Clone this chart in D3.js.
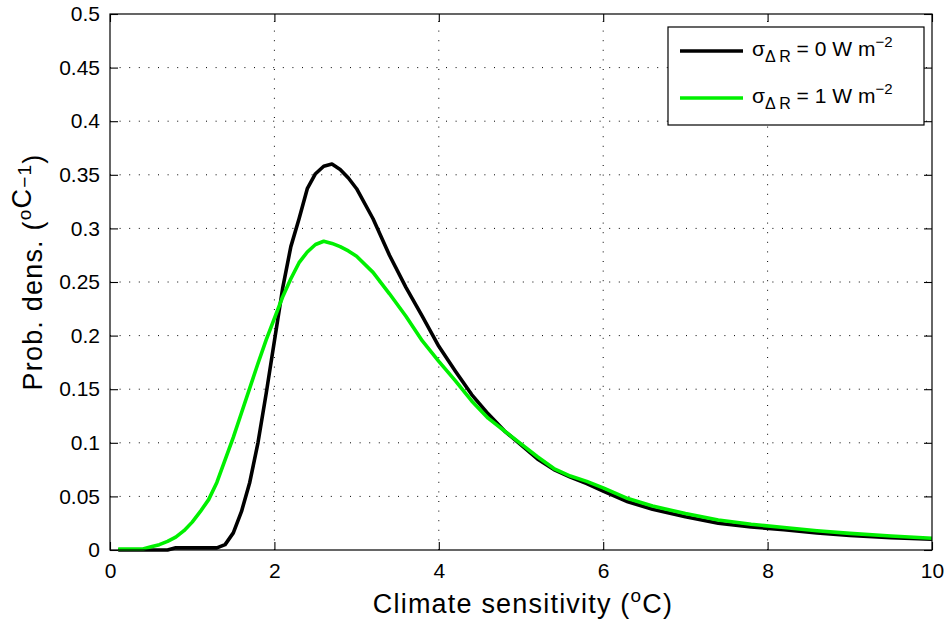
<!DOCTYPE html>
<html>
<head>
<meta charset="utf-8">
<script src="https://cdn.jsdelivr.net/npm/d3@7"></script>
<style>
  body { margin: 0; background: #fff; }
  text { font-family: "Liberation Sans", Arial, sans-serif; fill: #000; }
</style>
</head>
<body>
<script>
const width = 946;
const height = 625;

// climate sensitivity grid (deg C)
var xs = [0.1,0.2,0.3,0.4,0.5,0.6,0.7,0.8,0.9,1.0,1.1,1.2,1.3,1.4,1.5,1.6,1.7,1.8,1.9,2.0,
          2.1,2.2,2.3,2.4,2.5,2.6,2.7,2.8,2.9,3.0,3.2,3.4,3.6,3.8,4.0,4.2,4.4,4.6,4.8,5.0,
          5.2,5.4,5.6,5.8,6.0,6.3,6.6,7.0,7.4,7.8,8.2,8.6,9.0,9.5,10];

// sigma_dR = 0 W m^-2
var pdf0 = [0,0,0,0,0,0,0,0.002,0.002,0.002,0.002,0.002,0.002,0.005,0.016,0.036,0.063,0.100,0.146,0.195,
            0.244,0.283,0.309,0.337,0.351,0.358,0.360,0.355,0.347,0.337,0.309,0.275,0.245,0.218,0.190,0.167,0.145,0.127,0.111,0.098,
            0.085,0.075,0.068,0.062,0.055,0.045,0.038,0.031,0.025,0.0215,0.019,0.016,0.0135,0.0115,0.010];

// sigma_dR = 1 W m^-2
var pdf1 = [0.001,0.001,0.001,0.001,0.003,0.005,0.008,0.012,0.018,0.026,0.036,0.047,0.063,0.084,0.105,0.128,0.151,0.174,0.196,0.216,
            0.236,0.253,0.268,0.278,0.285,0.288,0.286,0.283,0.279,0.274,0.259,0.239,0.218,0.195,0.176,0.158,0.139,0.123,0.111,0.099,
            0.087,0.076,0.069,0.064,0.058,0.048,0.041,0.034,0.028,0.024,0.021,0.018,0.0155,0.013,0.011];

var xTicks = [0, 2, 4, 6, 8, 10];
var yTicks = [0, 0.05, 0.1, 0.15, 0.2, 0.25, 0.3, 0.35, 0.4, 0.45, 0.5];

var legendNames = ["0", "1"];
var legendColors = ["#000", "#00f000"];

// plot frame (don't call it "top", that clashes with window.top)
var mLeft = 110, mRight = 932, mTop = 14, mBottom = 550;

var svg = d3.select("body")
  .append("svg")
  .attr("width", width)
  .attr("height", height);

var x = d3.scaleLinear().domain([0, 10]).range([mLeft, mRight]);
var y = d3.scaleLinear().domain([0, 0.5]).range([mBottom, mTop]);

// dotted grid
var grid = svg.append("g")
  .attr("stroke", "#000")
  .attr("stroke-width", 1)
  .attr("stroke-dasharray", "1,8.6");

grid.selectAll("line.gx")
  .data(xTicks.slice(1, -1))
  .enter().append("line")
  .attr("x1", d => x(d)).attr("x2", d => x(d))
  .attr("y1", mBottom).attr("y2", mTop);

grid.selectAll("line.gy")
  .data(yTicks.slice(1, -1))
  .enter().append("line")
  .attr("x1", mLeft).attr("x2", mRight)
  .attr("y1", d => y(d)).attr("y2", d => y(d));

// axes with inward ticks
var tickLen = 8;
var fmt = d => String(+d.toFixed(2));

svg.append("g")
  .attr("transform", "translate(0," + mBottom + ")")
  .call(d3.axisBottom(x).tickValues(xTicks).tickSize(-tickLen).tickPadding(13).tickFormat(fmt));

svg.append("g")
  .attr("transform", "translate(0," + mTop + ")")
  .call(d3.axisTop(x).tickValues(xTicks).tickSize(-tickLen).tickFormat(""));

svg.append("g")
  .attr("transform", "translate(" + mLeft + ",0)")
  .call(d3.axisLeft(y).tickValues(yTicks).tickSize(-tickLen).tickPadding(10).tickFormat(fmt));

svg.append("g")
  .attr("transform", "translate(" + mRight + ",0)")
  .call(d3.axisRight(y).tickValues(yTicks).tickSize(-tickLen).tickFormat(""));

svg.selectAll(".domain").remove();
svg.selectAll(".tick line").attr("stroke-width", 1.1);
svg.selectAll(".tick text")
  .attr("font-family", null)
  .attr("font-size", null)
  .style("font-size", "21px");

// curves
var line = d3.line()
  .x((d, i) => x(xs[i]))
  .y(d => y(d));

svg.append("path")
  .datum(pdf0)
  .attr("d", line)
  .attr("fill", "none")
  .attr("stroke", legendColors[0])
  .attr("stroke-width", 3.6)
  .attr("stroke-linejoin", "round");

svg.append("path")
  .datum(pdf1)
  .attr("d", line)
  .attr("fill", "none")
  .attr("stroke", legendColors[1])
  .attr("stroke-width", 3.6)
  .attr("stroke-linejoin", "round");

// box
svg.append("rect")
  .attr("x", mLeft).attr("y", mTop)
  .attr("width", mRight - mLeft).attr("height", mBottom - mTop)
  .attr("fill", "none")
  .attr("stroke", "#000")
  .attr("stroke-width", 1.2);

// axis labels
var xl = svg.append("text")
  .attr("x", (mLeft + mRight) / 2 + 2)
  .attr("y", 613)
  .attr("text-anchor", "middle")
  .style("font-size", "27px")
  .style("letter-spacing", "1.2px");
xl.append("tspan").text("Climate sensitivity (");
xl.append("tspan").text("o").attr("dy", -11).style("font-size", "19px");
xl.append("tspan").text("C)").attr("dy", 11);

var yl = svg.append("text")
  .attr("transform", "translate(42,272) rotate(-90)")
  .attr("text-anchor", "middle")
  .style("font-size", "27px")
  .style("letter-spacing", "1.2px");
yl.append("tspan").text("Prob. dens. (");
yl.append("tspan").text("o").attr("dy", -11).style("font-size", "19px");
yl.append("tspan").text("C");
yl.append("tspan").text("\u22121").style("font-size", "19px");
yl.append("tspan").text(")").attr("dy", 11);

// legend
var lg = svg.append("g");
lg.append("rect")
  .attr("x", 668).attr("y", 27)
  .attr("width", 256).attr("height", 98)
  .attr("fill", "#fff")
  .attr("stroke", "#000")
  .attr("stroke-width", 1.2);

legendNames.forEach(function(v, i) {
  var ly = 51 + i * 47;
  lg.append("line")
    .attr("x1", 680).attr("x2", 743)
    .attr("y1", ly).attr("y2", ly)
    .attr("stroke", legendColors[i])
    .attr("stroke-width", 3.6);
  var t = lg.append("text")
    .attr("x", 752).attr("y", ly + 5)
    .style("font-size", "21px");
  t.append("tspan").text("\u03c3");
  t.append("tspan").text("\u0394 R").attr("dy", 6).style("font-size", "16px");
  t.append("tspan").text(" = " + v + " W m").attr("dy", -6);
  t.append("tspan").text("\u22122").attr("dy", -9).style("font-size", "15px");
});
</script>
</body>
</html>
